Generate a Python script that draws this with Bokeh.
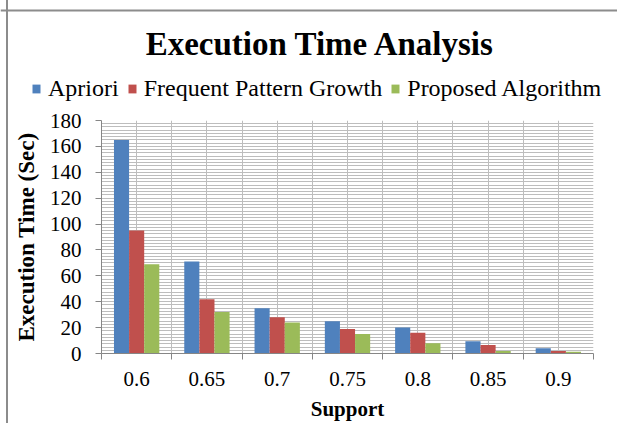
from bokeh.plotting import figure
from bokeh.layouts import column
from bokeh.models import Range1d, FixedTicker, Legend, LegendItem, ColumnDataSource, Label, Span
from bokeh.embed import file_html
from bokeh.resources import INLINE

# ---- data ----
categories = ["0.6", "0.65", "0.7", "0.75", "0.8", "0.85", "0.9"]
apriori = [165, 71, 35, 25, 20, 9.5, 4]
fp_growth = [95, 42, 28, 19, 16, 6.5, 2]
proposed = [69, 32, 24, 15, 8, 2, 1.3]
series_names = ["Apriori", "Frequent Pattern Growth", "Proposed Algorithm"]
y_ticks = [0, 20, 40, 60, 80, 100, 120, 140, 160, 180]
title_text = "Execution Time Analysis"
x_title = "Support"
y_title = "Execution Time (Sec)"

# ---- style ----
colors = ["#4F81BD", "#C0504D", "#9BBB59"]
FONT = "Liberation Serif"
GRID = "#bdbdbd"
AXIS = "#868686"
BORDER = "#8c8c8c"
bar_w = 0.215
W = 617
HEAD_H = 108
MAIN_H = 315

# ---------- header: title + legend ----------
h = figure(width=W, height=HEAD_H, x_range=Range1d(0, W), y_range=Range1d(0, HEAD_H),
           output_backend="svg", toolbar_location=None,
           x_axis_location=None, y_axis_location=None,
           min_border_left=0, min_border_right=0, min_border_top=0, min_border_bottom=0)
h.grid.visible = False
h.outline_line_color = None
h.border_fill_alpha = 0
h.background_fill_alpha = 0
h.add_layout(Span(location=HEAD_H - 10, dimension="width", line_color=BORDER, line_width=2))
h.add_layout(Label(x=320, y=HEAD_H - 43, text=title_text, text_align="center", text_baseline="alphabetic",
                   text_font=FONT, text_font_size="33px", text_font_style="bold", text_color="black"))
proxies = []
for k in range(len(series_names)):
    src = ColumnDataSource(dict(x=[0], top=[0]))
    proxies.append(h.vbar(x="x", top="top", bottom=0, width=0, source=src,
                          fill_color=colors[k], line_color=None))
legend = Legend(items=[LegendItem(label=nm, renderers=[r]) for nm, r in zip(series_names, proxies)],
                orientation="horizontal", location=(31, 6),
                glyph_width=10, glyph_height=11, label_standoff=7, spacing=8,
                padding=0, margin=0, border_line_color=None, background_fill_alpha=0,
                label_text_font=FONT, label_text_font_size="24px", label_text_color="black")
h.add_layout(legend)

# ---------- main chart ----------
n = len(categories)
p = figure(width=W, height=MAIN_H, x_range=Range1d(0, n), y_range=Range1d(0, y_ticks[-1]),
           output_backend="svg", toolbar_location=None,
           min_border_left=101, min_border_right=24, min_border_top=12, min_border_bottom=70)
p.border_fill_alpha = 0

for fig in (h, p):
    if "frame_align" in fig.properties():
        fig.frame_align = False

for k, vals in enumerate([apriori, fp_growth, proposed]):
    xs = [i + 0.5 + (k - 1) * bar_w for i in range(n)]
    src = ColumnDataSource(dict(x=xs, top=vals))
    p.vbar(x="x", top="top", bottom=0, width=bar_w, source=src,
           fill_color=colors[k], line_color=None)

# x axis
centers = [i + 0.5 for i in range(n)]
xt = FixedTicker(ticks=centers, minor_ticks=list(range(n + 1)))
p.xaxis.ticker = xt
p.xaxis.major_label_overrides = {c: lab for c, lab in zip(centers, categories)}
p.xaxis.major_tick_out = 0
p.xaxis.major_tick_in = 0
p.xaxis.minor_tick_out = 6
p.xaxis.minor_tick_in = 0
p.xaxis.major_label_standoff = 12
p.xaxis.axis_label = x_title
p.xaxis.axis_label_standoff = 8

# y axis
minor_y = [i * 2.5 for i in range(int(y_ticks[-1] / 2.5) + 1)]
yt = FixedTicker(ticks=y_ticks, minor_ticks=minor_y)
p.yaxis.ticker = yt
p.yaxis.major_tick_out = 6
p.yaxis.major_tick_in = 0
p.yaxis.minor_tick_out = 0
p.yaxis.minor_tick_in = 0
p.yaxis.major_label_standoff = 14
p.yaxis.axis_label = y_title
p.yaxis.axis_label_standoff = 8

for ax in (p.xaxis[0], p.yaxis[0]):
    ax.axis_line_color = AXIS
    ax.major_tick_line_color = AXIS
    ax.minor_tick_line_color = AXIS
    ax.major_label_text_font = FONT
    ax.major_label_text_font_size = "21px"
    ax.major_label_text_color = "black"
    ax.axis_label_text_font = FONT
    ax.axis_label_text_font_style = "bold"
    ax.axis_label_text_color = "black"
p.xaxis.axis_label_text_font_size = "21px"
p.yaxis.axis_label_text_font_size = "23px"

# grids
p.xgrid.ticker = xt
p.ygrid.ticker = yt
for g in (p.xgrid[0], p.ygrid[0]):
    g.grid_line_color = GRID
    g.minor_grid_line_color = GRID
    g.grid_line_width = 1
    g.minor_grid_line_width = 1
p.outline_line_color = None

layout = column(h, p, spacing=0,
                styles={"box-shadow": f"inset 6px 0 0 0 white, inset 8px 0 0 0 {BORDER}"})
open("out.html", "w").write(file_html(layout, INLINE))
